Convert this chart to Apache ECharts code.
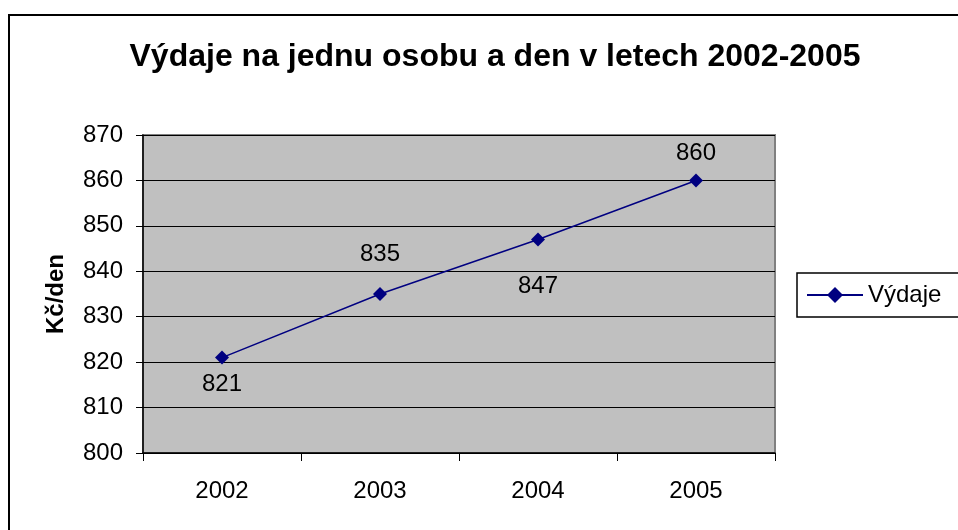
<!DOCTYPE html>
<html>
<head>
<meta charset="utf-8">
<script src="https://cdn.jsdelivr.net/npm/echarts@6/dist/echarts.min.js"></script>
<style>
  html, body { margin: 0; padding: 0; background: #fff; }
  #chart { width: 958px; height: 530px; }
</style>
</head>
<body>
<div id="chart"></div>
<script>
// data
var years = ['2002', '2003', '2004', '2005'];
var vydaje = [821, 835, 847, 860];
// where each value label sits relative to its point
var labelSide = ['bottom', 'top', 'bottom', 'top'];
var labelGap = [8, 21, 28, 8];

var chart = echarts.init(document.getElementById('chart'));

var points = vydaje.map(function (v, i) {
  return {
    value: v,
    label: { position: labelSide[i], distance: labelGap[i] }
  };
});

chart.setOption({
  animation: false,
  textStyle: { fontFamily: 'Liberation Sans, Arial, sans-serif' },
  title: {
    text: 'Výdaje na jednu osobu a den v letech 2002-2005',
    left: 490,
    textAlign: 'center',
    top: 36,
    textStyle: { fontSize: 32, fontWeight: 'bold', color: '#000' }
  },
  graphic: [{
    type: 'rect',
    shape: { x: 9, y: 15, width: 1000, height: 600 },
    style: { fill: 'none', stroke: '#000', lineWidth: 2 },
    silent: true
  }],
  legend: {
    left: 797,
    top: 273,
    orient: 'vertical',
    data: ['Výdaje'],
    itemWidth: 56,
    itemHeight: 20,
    itemGap: 4,
    padding: [10, 60, 10, 9],
    borderColor: '#000',
    borderWidth: 1.5,
    textStyle: { fontSize: 24, color: '#000' }
  },
  grid: {
    left: 143,
    top: 135,
    width: 632,
    height: 318,
    show: true,
    backgroundColor: '#c0c0c0',
    borderColor: '#808080',
    borderWidth: 2
  },
  xAxis: {
    type: 'category',
    data: years,
    boundaryGap: true,
    axisLine: { lineStyle: { color: '#000', width: 1.5 } },
    axisTick: { show: true, length: 8, lineStyle: { color: '#000' } },
    axisLabel: { fontSize: 24, color: '#000', margin: 26 }
  },
  yAxis: {
    type: 'value',
    min: 800,
    max: 870,
    interval: 10,
    name: 'Kč/den',
    nameLocation: 'middle',
    nameRotate: 90,
    nameGap: 75,
    nameTextStyle: { fontSize: 24, fontWeight: 'bold', color: '#000' },
    axisLine: { show: true, lineStyle: { color: '#000', width: 1.5 } },
    axisTick: { show: true, length: 7, lineStyle: { color: '#000' } },
    axisLabel: { fontSize: 24, color: '#000', margin: 20 },
    splitLine: { show: true, lineStyle: { color: '#000', width: 1 } }
  },
  series: [{
    name: 'Výdaje',
    type: 'line',
    data: points,
    symbol: 'diamond',
    symbolSize: 14,
    lineStyle: { color: '#000080', width: 1.5 },
    itemStyle: { color: '#000080' },
    label: { show: true, fontSize: 24, color: '#000' }
  }]
});
</script>
</body>
</html>
